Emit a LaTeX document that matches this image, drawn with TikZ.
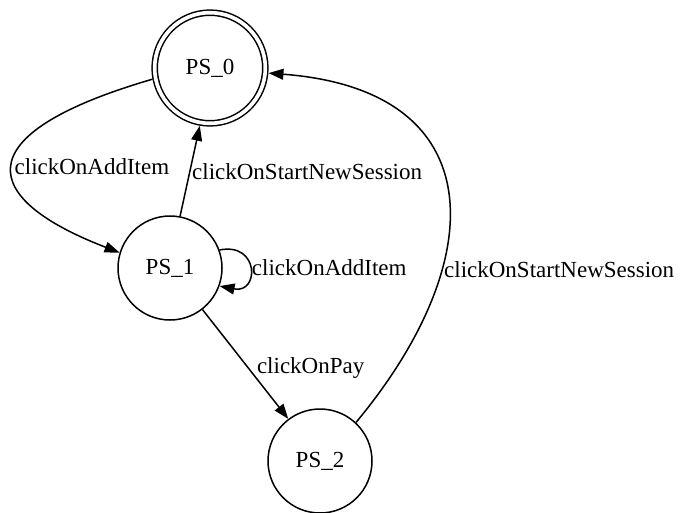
\documentclass[tikz,border=0pt]{standalone}
\usepackage{fontspec}
\setmainfont{Liberation Serif}
\usetikzlibrary{arrows.meta}
\begin{document}
\begin{tikzpicture}[>={Triangle[length=9pt,width=6.5pt]},x=0.6pt,y=0.6pt,line width=0.9pt,
	font=\fontsize{13.8}{16}\selectfont,
	st/.style={circle,draw,minimum size=62.4pt,inner sep=0pt},
	fin/.style={st,double,double distance=2.2pt,minimum size=66.4pt,outer sep=2pt},
	lbl/.style={anchor=west,inner sep=1pt}]
	\useasboundingbox (0,0) rectangle (687,512);
	% states
	\node[fin] (PS0) at (210,444) {PS\_0};
	\node[st] (PS1) at (170,244) {PS\_1};
	\node[st] (PS2) at (320,51) {PS\_2};
	% transitions
	\draw[->] (PS0.191) .. controls +(-192,-56) and +(-138,53) .. (PS1.163)
		node[lbl,pos=.5] {clickOnAddItem};
	\draw[->] (PS1.79) -- (PS0.260)
		node[lbl,pos=.49] {clickOnStartNewSession};
	\draw[->] (PS1.20) .. controls +(40,8) and +(40,-8) .. (PS1.-20)
		node[lbl,pos=.5] {clickOnAddItem};
	\draw[->] (PS1.-52) -- (PS2.127)
		node[lbl,pos=.53,xshift=4pt] {clickOnPay};
	\draw[->] (PS2.47) .. controls +(135,162) and +(225,-17) .. (PS0.-5)
		node[lbl,pos=.32] {clickOnStartNewSession};
\end{tikzpicture}
\end{document}
